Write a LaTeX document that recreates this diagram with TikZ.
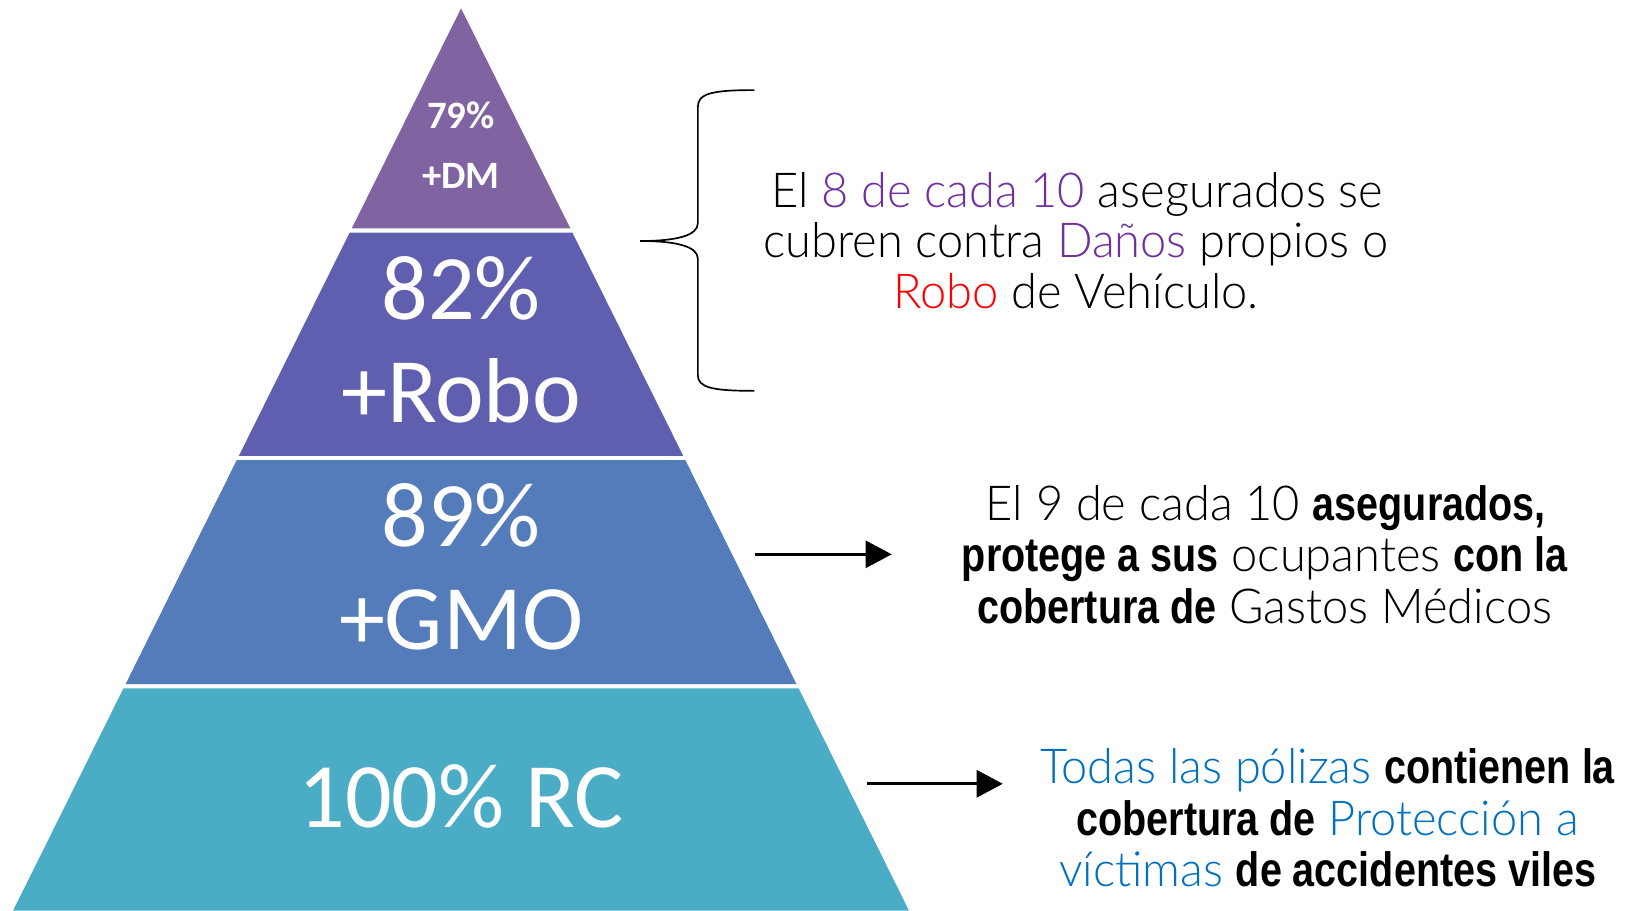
\documentclass[tikz,border=0pt]{standalone}
\usepackage{fontspec}
\setmainfont{Carlito}
\newfontfamily\thinf{Lato}[UprightFont={* Light}, FakeStretch=0.975]
\newfontfamily\boldf{Liberation Sans}[UprightFont={* Bold}, FakeStretch=0.82]
\usetikzlibrary{arrows.meta}
\definecolor{bandA}{HTML}{8064A2}
\definecolor{bandB}{HTML}{605EAE}
\definecolor{bandC}{HTML}{547CBB}
\definecolor{bandD}{HTML}{4BACC6}
\definecolor{pur}{HTML}{7030A0}
\definecolor{blu}{HTML}{0070C0}
\definecolor{rd}{HTML}{FF0000}
\newcommand\bx[1]{{\boldf #1}}
\tikzset{
  pyrbig/.style={text=white, inner sep=0pt, anchor=base, font=\fontsize{88}{88}\selectfont},
  pyrsmall/.style={text=white, inner sep=0pt, anchor=base, font=\bfseries\fontsize{37}{37}\selectfont},
  rtext/.style={inner sep=0pt, anchor=base, font=\thinf\fontsize{46}{50}\selectfont},
  conn/.style={line width=2.5pt, -{Triangle[length=25pt,width=26pt]}},
  bracel/.style={line width=1.6pt}
}
\begin{document}
\begin{tikzpicture}[x=1pt,y=-1pt]
\useasboundingbox[fill=white] (0,0) rectangle (1568,869);
% pyramid bands
\fill[bandA] (440,8) -- (544.3,218) -- (335.7,218) -- cycle;
\fill[bandB] (333.7,222) -- (546.3,222) -- (652,435) -- (228,435) -- cycle;
\fill[bandC] (226,439) -- (654,439) -- (760.2,653) -- (119.8,653) -- cycle;
\fill[bandD] (117.8,657) -- (762.2,657) -- (867.5,869) -- (12.5,869) -- cycle;
% pyramid labels
\node[pyrsmall] (p79) at (440,123) {79\%};
\node[pyrsmall] (pdm) at (440,180) {+DM};
\node[pyrbig] (p82) at (440,305) {82\%};
\node[pyrbig] (prob) at (440,403) {+Robo};
\node[pyrbig] (p89) at (440,522) {89\%};
\node[pyrbig] (pgmo) at (440,620) {+GMO};
\node[pyrbig] (prc) at (440,790) {100\% RC};
% brace
\draw[bracel] (720,86) .. controls (680,86) and (666,89) .. (666,102)
  -- (666,213) .. controls (666,225) and (645,230) .. (611,230)
  .. controls (645,230) and (666,235) .. (666,247)
  -- (666,358) .. controls (666,370) and (680,373) .. (720,373);
% text block 1
\node[rtext] (a1) at (1028,198) {El {\color{pur}8 de cada 10} asegurados se};
\node[rtext] (a2) at (1027,246) {cubren contra {\color{pur}Daños} propios o};
\node[rtext] (a3) at (1027,294) {{\color{rd}Robo} de Vehículo.};
% text block 2
\node[rtext] (b1) at (1208,497) {El 9 de cada 10 \bx{asegurados,}};
\node[rtext] (b2) at (1207,545) {\bx{protege a sus} ocupantes \bx{con la}};
\node[rtext] (b3) at (1207,595) {\bx{cobertura de} Gastos Médicos};
% text block 3
\node[rtext] (c1) at (1267,748) {{\color{blu}Todas las pólizas} \bx{contienen la}};
\node[rtext] (c2) at (1267,797) {\bx{cobertura de} {\color{blu}Protección a}};
\node[rtext] (c3) at (1267,846) {{\color{blu}víctimas} \bx{de accidentes viles}};
% arrows
\coordinate (s1) at (721,529);
\coordinate (e1) at (851,529);
\coordinate (s2) at (827,748);
\coordinate (e2) at (957,748);
\draw[conn] (s1) -- (e1);
\draw[conn] (s2) -- (e2);
\end{tikzpicture}
\end{document}
